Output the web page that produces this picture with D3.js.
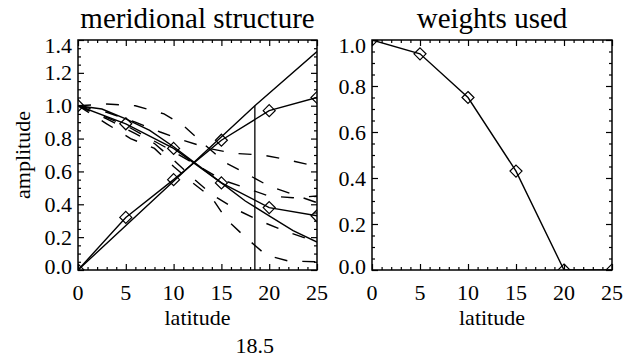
<!DOCTYPE html>
<html><head><meta charset="utf-8">
<script src="https://cdn.jsdelivr.net/npm/d3@7"></script>
<style>
html,body{margin:0;padding:0;background:#fff;}
svg{display:block;font-family:"Liberation Serif","DejaVu Serif",serif;}
</style></head>
<body>
<svg id="c" width="624" height="359"></svg>
<script>
// ---------- data ----------
const xTicks = [0, 5, 10, 15, 20, 25];
const leftYTicks = [0.0, 0.2, 0.4, 0.6, 0.8, 1.0, 1.2, 1.4];
const rightYTicks = [0.0, 0.2, 0.4, 0.6, 0.8, 1.0];

const diamondLat = [0, 5, 10, 15, 20, 25];
const risingDiamond = [0.0, 0.32, 0.55, 0.79, 0.97, 1.05];
const fallingDiamond = [1.0, 0.89, 0.74, 0.53, 0.38, 0.33];
const weights = [1.0, 0.94, 0.75, 0.43, 0.0, 0.0];

const sinLat = [0, 18.5, 25];
const sinVals = [0.0, 1.0, 1.33];

const gaussLat = [0, 2.5, 5, 7.5, 10, 12.5, 15, 17.5, 20, 22.5, 25];
const gaussVals = [1.0, 0.98, 0.92, 0.85, 0.75, 0.64, 0.53, 0.42, 0.33, 0.24, 0.17];

const dash1Lat = [0, 3, 6, 9, 11, 13.5, 15.5, 17.5, 20, 22.5, 25];
const dash1Val = [1.0, 1.01, 1.0, 0.95, 0.88, 0.75, 0.65, 0.59, 0.51, 0.46, 0.41];
const dash2Lat = [0, 3, 6, 8.6, 11, 13.7, 16.3, 19.3, 22, 25];
const dash2Val = [1.0, 0.96, 0.9, 0.84, 0.79, 0.74, 0.71, 0.70, 0.67, 0.63];
const dash3Lat = [0, 3, 5.5, 8, 10, 12, 14, 15.5, 17.5, 19.7, 22, 25];
const dash3Val = [1.0, 0.89, 0.80, 0.74, 0.63, 0.53, 0.44, 0.31, 0.20, 0.09, 0.055, 0.05];
const dash4Lat = [0, 3, 6, 8, 10, 12, 14, 16.5, 19, 21.5, 25];
const dash4Val = [1.0, 0.92, 0.83, 0.77, 0.67, 0.56, 0.46, 0.37, 0.30, 0.24, 0.17];
const dash5Lat = [0, 5, 10, 13, 15, 17.5, 20, 22.5, 25];
const dash5Val = [1.0, 0.88, 0.72, 0.62, 0.55, 0.50, 0.45, 0.44, 0.45];

const markLat = 18.5;
const markLabel = "18.5";

// ---------- layout ----------
const svg = d3.select("#c");
const plotTop = 40, plotBottom = 270;
const L = {x0: 78, x1: 317, ymax: 1.4};
const R = {x0: 372, x1: 612, ymax: 1.0};
const tickFont = 22;

function pairs(xs, ys){ return xs.map((x,i)=>[x, ys[i]]); }

function panel(P, yTicks, title, id){
  const x = d3.scaleLinear().domain([0,25]).range([P.x0, P.x1]);
  const y = d3.scaleLinear().domain([0,P.ymax]).range([plotBottom, plotTop]);
  const g = svg.append("g");
  svg.append("clipPath").attr("id", id).append("rect")
     .attr("x", P.x0).attr("y", plotTop).attr("width", P.x1-P.x0).attr("height", plotBottom-plotTop);

  const minorX = d3.range(0, 26, 1).filter(v => v % 5 !== 0);
  const minorY = d3.range(0, P.ymax + 1e-9, 0.05).filter(v => Math.abs(v/0.2 - Math.round(v/0.2)) > 1e-6);
  const ax = (axis, tr) => g.append("g").attr("transform", tr).call(axis)
      .call(s => s.select(".domain").remove())
      .call(s => s.selectAll("line").attr("stroke", "#000").attr("stroke-width", 1.2));
  ax(d3.axisTop(x).tickValues(xTicks).tickSize(6).tickFormat(""), `translate(0,${plotBottom})`);
  ax(d3.axisTop(x).tickValues(minorX).tickSize(3).tickFormat(""), `translate(0,${plotBottom})`);
  ax(d3.axisBottom(x).tickValues(xTicks).tickSize(6).tickFormat(""), `translate(0,${plotTop})`);
  ax(d3.axisBottom(x).tickValues(minorX).tickSize(3).tickFormat(""), `translate(0,${plotTop})`);
  ax(d3.axisRight(y).tickValues(yTicks).tickSize(6).tickFormat(""), `translate(${P.x0},0)`);
  ax(d3.axisRight(y).tickValues(minorY).tickSize(3).tickFormat(""), `translate(${P.x0},0)`);
  ax(d3.axisLeft(y).tickValues(yTicks).tickSize(6).tickFormat(""), `translate(${P.x1},0)`);
  ax(d3.axisLeft(y).tickValues(minorY).tickSize(3).tickFormat(""), `translate(${P.x1},0)`);
  g.append("rect").attr("x", P.x0).attr("y", plotTop).attr("width", P.x1-P.x0).attr("height", plotBottom-plotTop)
    .attr("fill", "none").attr("stroke", "#000").attr("stroke-width", 1.5);

  g.selectAll(".xl").data(xTicks).enter().append("text")
    .attr("x", d => x(d)).attr("y", 300).attr("text-anchor", "middle")
    .attr("font-size", tickFont).text(d => d);
  g.selectAll(".yl").data(yTicks).enter().append("text")
    .attr("x", P.x0 - 6)
    .attr("y", (d,i) => y(d) + 7.5 + (i === 0 ? -4 : 0) + (i === yTicks.length-1 ? 5 : 0))
    .attr("text-anchor", "end").attr("font-size", tickFont).text(d => d.toFixed(1));

  g.append("text").attr("x", (P.x0+P.x1)/2).attr("y", 28).attr("text-anchor", "middle")
    .attr("font-size", 29).text(title);
  g.append("text").attr("x", (P.x0+P.x1)/2).attr("y", 325).attr("text-anchor", "middle")
    .attr("font-size", tickFont).text("latitude");

  const plot = svg.append("g").attr("clip-path", `url(#${id})`);
  return {x, y, plot};
}

const lp = panel(L, leftYTicks, "meridional structure", "clipL");
const rp = panel(R, rightYTicks, "weights used", "clipR");

svg.append("text").attr("transform", "translate(30,155) rotate(-90)")
  .attr("text-anchor", "middle").attr("font-size", tickFont).text("amplitude");

function drawLine(p, data, dashed){
  const line = d3.line().x(d => p.x(d[0])).y(d => p.y(d[1]));
  p.plot.append("path").datum(data).attr("d", line).attr("fill", "none")
    .attr("stroke", "#000").attr("stroke-width", 1.4)
    .attr("stroke-dasharray", dashed ? "13,15" : null);
}
function drawDiamonds(p, data){
  const r = 6;
  p.plot.selectAll(null).data(data).enter().append("path")
    .attr("d", d => { const cx = p.x(d[0]), cy = p.y(d[1]);
      return `M${cx},${cy-r}L${cx+r},${cy}L${cx},${cy+r}L${cx-r},${cy}Z`; })
    .attr("fill", "none").attr("stroke", "#000").attr("stroke-width", 1.2);
}

[[dash1Lat,dash1Val],[dash2Lat,dash2Val],[dash3Lat,dash3Val],[dash4Lat,dash4Val],[dash5Lat,dash5Val]]
  .forEach(([a,b]) => drawLine(lp, pairs(a,b), true));
drawLine(lp, pairs(sinLat, sinVals), false);
drawLine(lp, pairs(gaussLat, gaussVals), false);
drawLine(lp, pairs(diamondLat, risingDiamond), false);
drawDiamonds(lp, pairs(diamondLat, risingDiamond));
drawLine(lp, pairs(diamondLat, fallingDiamond), false);
drawDiamonds(lp, pairs(diamondLat, fallingDiamond));
lp.plot.append("line").attr("x1", lp.x(markLat)).attr("x2", lp.x(markLat))
  .attr("y1", lp.y(0)).attr("y2", lp.y(sinVals[1]))
  .attr("stroke", "#000").attr("stroke-width", 1.3);
svg.append("text").attr("x", lp.x(markLat)).attr("y", 353).attr("text-anchor", "middle")
  .attr("font-size", tickFont).text(markLabel);

drawLine(rp, pairs(diamondLat, weights), false);
drawDiamonds(rp, pairs(diamondLat, weights));
</script>
</body></html>
